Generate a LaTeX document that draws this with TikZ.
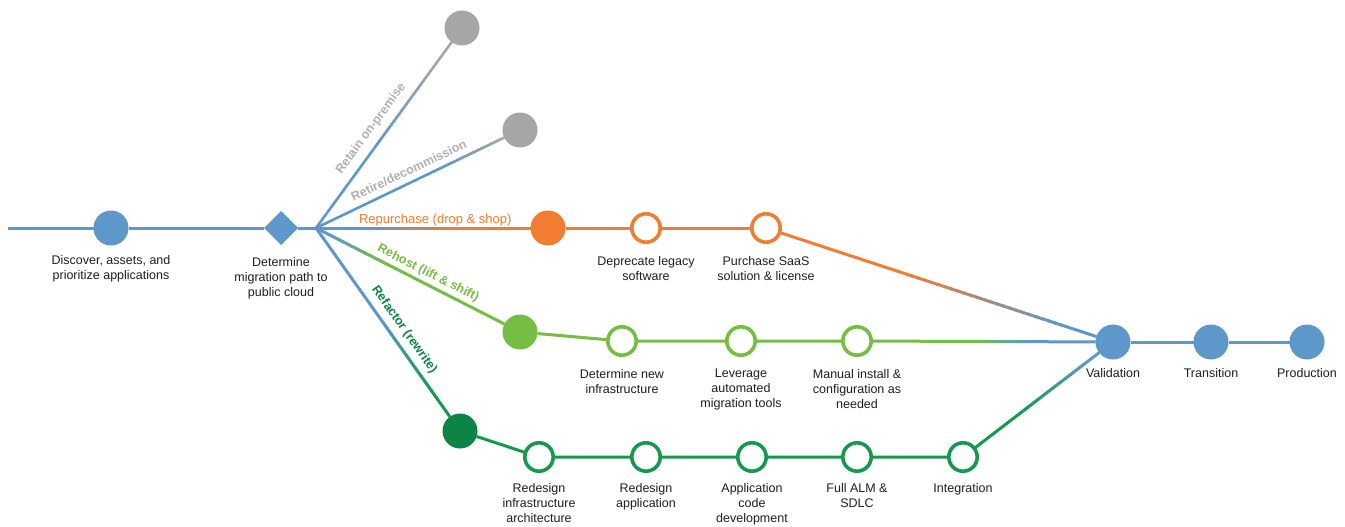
\documentclass[tikz,border=0pt]{standalone}
\usepackage{fontspec}
\setmainfont{Liberation Sans}
\usetikzlibrary{positioning,calc,shapes.geometric,backgrounds}

\definecolor{cblue}{RGB}{94,151,202}
\definecolor{corange}{RGB}{240,125,49}
\definecolor{clgreen}{RGB}{118,190,67}
\definecolor{cdgreen}{RGB}{11,132,70}
\definecolor{cgreen}{RGB}{22,153,78}
\definecolor{cgray}{RGB}{166,166,166}
\definecolor{cgraytext}{RGB}{176,176,176}
\definecolor{ctext}{RGB}{30,30,30}

% Straight connector between two nodes whose colour blends from #3 to #4
% between the fractions #5 and #6 of the way from #1 to #2.
\newcommand\blendline[6]{%
  \draw[#3] (#1) -- ($(#1)!#5!(#2)$);
  \draw[#4] ($(#1)!#6!(#2)$) -- (#2);
  \foreach \k in {0,...,23}{%
    \pgfmathsetmacro\ta{#5+(#6-#5)*\k/24}%
    \pgfmathsetmacro\tb{#5+(#6-#5)*(\k+1.3)/24}%
    \pgfmathtruncatemacro\mx{100*(\k+0.5)/24}%
    \draw[#4!\mx!#3] ($(#1)!\ta!(#2)$) -- ($(#1)!\tb!(#2)$);
  }%
}

\tikzset{
  solidstop/.style={circle, fill=#1, minimum size=35pt, inner sep=0pt, outer sep=0pt},
  ring/.style={circle, draw=#1, fill=white, line width=3.6pt, minimum size=28.4pt, inner sep=0pt, outer sep=0pt},
  decision/.style={diamond, fill=cblue, minimum size=34pt, inner sep=0pt, outer sep=0pt},
  lbl/.style={font=\fontsize{12.5}{15}\selectfont, text=ctext, align=center, inner sep=0pt, anchor=north},
  branchlbl/.style={font=\bfseries\fontsize{12.5}{15}\selectfont, text=#1, sloped, inner sep=1pt},
  track/.style={line width=3pt},
  sidetrack/.style={line width=2.6pt},
}

\begin{document}
\begin{tikzpicture}[x=1pt,y=-1pt]
\useasboundingbox (0,0) rectangle (1345,527);

% trunk
\coordinate (start) at (8,228);
\node[solidstop=cblue] (disc) at (111,228) {};
\node[decision] (det) at (281,228) {};
\coordinate (hub) at (316,228);

% exits that leave the cloud path
\node[solidstop=cgray] (retain) at (462,28) {};
\node[solidstop=cgray] (retire) at (520,130) {};

% repurchase track
\node[solidstop=corange] (rp) at (548,228) {};
\node[ring=corange] (rp1) at (646,228) {};
\node[ring=corange] (rp2) at (766,228) {};

% rehost track
\node[solidstop=clgreen] (rh) at (520,332) {};
\node[ring=clgreen] (rh1) at (622,341) {};
\node[ring=clgreen] (rh2) at (741,341) {};
\node[ring=clgreen] (rh3) at (857,341) {};

% refactor track
\node[solidstop=cdgreen] (rf) at (460,431) {};
\node[ring=cgreen] (rf1) at (539,457) {};
\node[ring=cgreen] (rf2) at (646,457) {};
\node[ring=cgreen] (rf3) at (752,457) {};
\node[ring=cgreen] (rf4) at (857,457) {};
\node[ring=cgreen] (rf5) at (963,457) {};

% common finish
\node[solidstop=cblue] (val) at (1113,342) {};
\node[solidstop=cblue] (tra) at (1211,342) {};
\node[solidstop=cblue] (pro) at (1307,342) {};

% stop captions
\node[lbl] (disc-t) at ($(disc)+(0,27)$) {Discover, assets, and\\prioritize applications};
\node[lbl] (det-t) at ($(det)+(0,29)$) {Determine\\migration path to\\public cloud};
\node[lbl] (rp1-t) at ($(rp1)+(0,28)$) {Deprecate legacy\\software};
\node[lbl] (rp2-t) at ($(rp2)+(0,28)$) {Purchase SaaS\\solution \& license};
\node[lbl] (rh1-t) at ($(rh1)+(0,28)$) {Determine new\\infrastructure};
\node[lbl] (rh2-t) at ($(rh2)+(0,28)$) {Leverage\\automated\\migration tools};
\node[lbl] (rh3-t) at ($(rh3)+(0,28)$) {Manual install \&\\configuration as\\needed};
\node[lbl] (rf1-t) at ($(rf1)+(0,26)$) {Redesign\\infrastructure\\architecture};
\node[lbl] (rf2-t) at ($(rf2)+(0,26)$) {Redesign\\application};
\node[lbl] (rf3-t) at ($(rf3)+(0,26)$) {Application\\code\\development};
\node[lbl] (rf4-t) at ($(rf4)+(0,26)$) {Full ALM \&\\SDLC};
\node[lbl] (rf5-t) at ($(rf5)+(0,26)$) {Integration};
\node[lbl] (val-t) at ($(val)+(0,26)$) {Validation};
\node[lbl] (tra-t) at ($(tra)+(0,26)$) {Transition};
\node[lbl] (pro-t) at ($(pro)+(0,26)$) {Production};

% branch names along their lines
\path (hub) -- (retain) node[branchlbl=cgraytext, pos=0.49, above=7pt] (retain-t) {Retain on-premise};
\path (hub) -- (retire) node[branchlbl=cgraytext, pos=0.52, above=6pt] (retire-t) {Retire/decommission};
\path (hub) -- (rh) node[branchlbl=clgreen, pos=0.57, above=3.5pt] (rh-t) {Rehost (lift \& shift)};
\path (hub) -- (rf) node[branchlbl=cdgreen, pos=0.58, above=6pt] (rf-t) {Refactor (rewrite)};
\path (hub) -- (rp) node[pos=0.556, anchor=base, yshift=5pt, inner sep=0pt,
  font=\fontsize{13}{15}\selectfont, text=corange] (rp-t) {Repurchase (drop \& shop)};

\begin{scope}[on background layer]
  \fill[white] (0,0) rectangle (1345,527);
  \begin{scope}[track]
    % trunk
    \draw[cblue] (start) -- (disc) -- (det) -- (hub);
    % repurchase
    \blendline{hub}{rp}{cblue}{corange}{0.20}{0.60}
    \draw[corange] (rp) -- (rp1) -- (rp2);
    \blendline{rp2}{val}{corange}{cblue}{0.40}{0.85}
    % rehost
    \blendline{hub}{rh}{cblue}{clgreen}{0.05}{0.35}
    \draw[clgreen] (rh) -- (rh1) -- (rh2) -- (rh3);
    \blendline{rh3}{val}{clgreen}{cblue}{0.45}{0.68}
    % refactor
    \blendline{hub}{rf}{cblue}{cgreen}{0.45}{0.80}
    \draw[cgreen] (rf) -- (rf1) -- (rf2) -- (rf3) -- (rf4) -- (rf5);
    \blendline{rf5}{val}{cgreen}{cblue}{0.40}{0.80}
    % finish
    \draw[cblue] (val) -- (tra) -- (pro);
  \end{scope}
  % exits
  \begin{scope}[sidetrack]
    \blendline{hub}{retain}{cblue}{cgray}{0.40}{0.80}
    \blendline{hub}{retire}{cblue}{cgray}{0.62}{0.90}
  \end{scope}
\end{scope}
\end{tikzpicture}
\end{document}
